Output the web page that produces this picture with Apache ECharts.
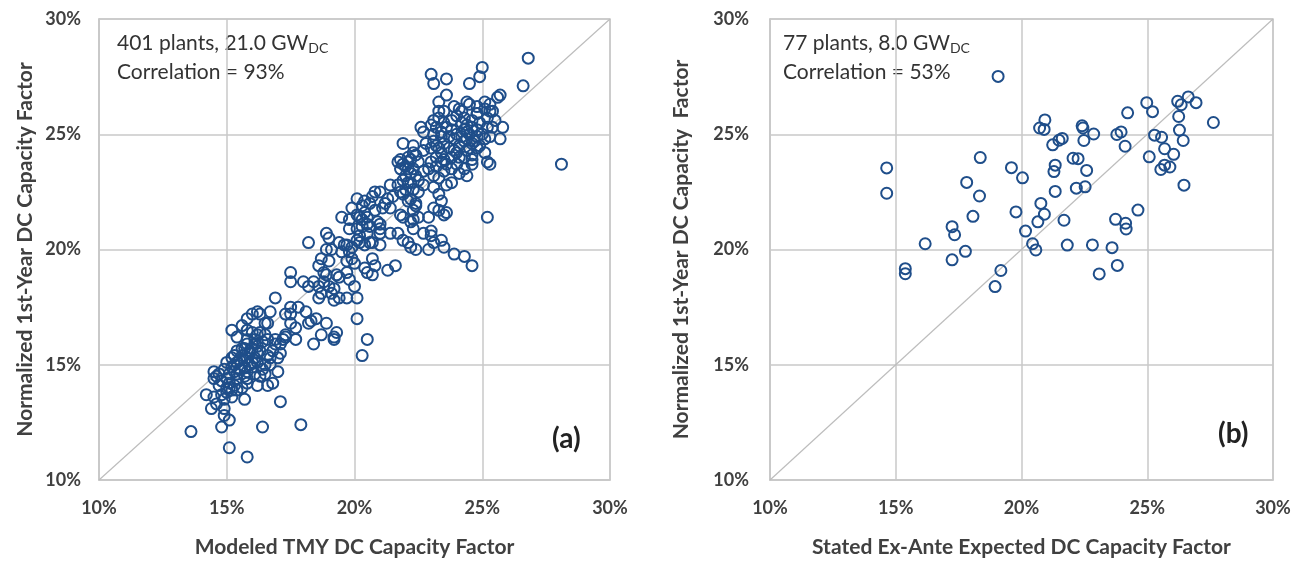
<!DOCTYPE html>
<html>
<head>
<meta charset="utf-8">
<title>Capacity factor scatter</title>
<script src="https://cdn.jsdelivr.net/npm/echarts@6/dist/echarts.min.js"></script>
<style>
  html, body { margin: 0; padding: 0; background: #fff; }
  #chart { width: 1301px; height: 563px; }
</style>
</head>
<body>
<div id="chart"></div>
<script>
// axis ticks (percent)
var tickValues = [10, 15, 20, 25, 30];

// panel (a): modeled TMY CF vs normalized 1st-year CF, [x, y] in %
var modeledPoints = [
  // top
  [26.8,28.3],[25.0,27.9],[24.9,27.5],[23.0,27.6],[23.1,27.2],[23.6,27.4],[26.6,27.1],[24.5,27.2],
  [23.6,26.7],[23.3,26.4],[25.7,26.7],[25.6,26.6],[24.4,26.4],[24.5,26.3],[24.8,26.2],[25.1,26.1],
  [25.4,26.0],[23.9,26.2],[24.1,26.1],[25.1,26.4],[25.3,26.3],[23.3,26.0],
  // 25-26
  [22.6,25.3],[22.7,25.1],[23.0,25.4],[23.1,25.6],[23.3,25.7],[23.5,25.5],[23.6,25.3],[23.8,25.6],
  [24.0,25.8],[24.2,25.5],[24.3,25.7],[24.4,25.4],[24.6,25.6],[24.8,25.9],[24.9,25.5],[25.2,25.7],
  [25.3,26.0],[25.4,25.3],[25.8,25.3],[25.2,25.3],[24.8,25.2],[24.4,25.1],[24.0,25.0],[23.4,25.1],[23.1,25.0],
  // 24-25
  [21.9,24.6],[22.3,24.5],[22.4,24.1],[22.7,24.3],[22.8,24.6],[23.1,24.7],[23.2,24.5],[23.4,24.2],
  [23.5,24.6],[23.7,24.4],[23.9,24.8],[24.0,24.2],[24.1,24.5],[24.3,24.7],[24.4,24.3],[24.6,24.6],
  [24.8,24.9],[24.9,24.5],[25.1,24.8],[25.3,24.9],[25.7,24.8],[25.1,24.2],[25.2,23.8],[25.3,23.7],
  [24.6,24.1],[23.8,24.0],
  // 23-24
  [21.7,23.8],[21.8,23.5],[21.9,23.7],[22.1,23.5],[22.2,23.9],[22.3,23.5],[22.5,23.8],[22.7,23.4],
  [22.9,23.5],[23.1,23.2],[23.2,23.6],[23.4,23.8],[23.5,23.4],[23.8,23.5],[24.0,23.7],[24.1,23.3],
  [24.3,23.5],[24.4,23.2],[24.6,23.7],[23.3,23.1],
  // 22-23
  [21.4,22.8],[21.7,22.8],[21.8,22.5],[21.9,22.4],[22.1,22.9],[22.3,22.6],[22.5,22.5],[22.7,22.8],
  [23.1,22.7],[23.3,22.4],[23.8,22.9],[23.6,22.8],[23.4,22.1],[22.1,22.1],[21.5,22.3],
  // 21-22
  [21.3,22.2],[21.4,21.8],[21.8,21.5],[21.9,21.4],[22.2,21.2],[22.3,21.3],[22.5,21.4],[22.9,21.4],
  [23.1,21.8],[23.3,21.7],[23.5,21.5],[23.6,21.6],[25.2,21.4],[22.4,21.9],[22.3,21.7],
  // 20-21
  [21.4,20.7],[21.7,20.7],[21.9,20.4],[22.1,20.3],[22.2,20.1],[22.4,20.0],[22.9,20.0],[23.0,20.8],
  [23.0,20.6],[23.1,20.3],[23.4,20.4],[23.5,20.1],[23.9,19.8],[24.3,19.7],[24.6,19.3],[22.3,20.9],
  [22.7,20.7],[20.5,20.7],[20.7,20.3],[21.0,20.7],[21.0,20.2],
  // upper core
  [22.0,23.6],[22.1,23.8],[22.2,23.3],[22.0,23.2],[21.9,23.0],[22.2,22.9],[22.4,23.2],[22.1,24.0],
  [22.3,24.2],[21.8,23.9],[22.5,23.0],[22.0,22.6],[22.2,22.2],[22.4,22.0],[24.3,25.2],[24.5,25.0],
  [24.4,24.8],[24.6,25.3],[24.2,24.9],[24.7,24.7],[24.5,24.4],[24.8,24.4],[24.3,24.0],[24.6,23.9],
  [23.4,24.9],[23.3,24.4],[23.2,24.0],[23.5,23.9],[23.0,24.4],[23.7,24.9],[23.8,25.2],[23.6,23.7],
  [23.9,24.3],[24.1,24.0],[23.2,25.3],[23.5,26.0],[24.2,26.0],[24.8,25.9],[25.0,25.0],[25.5,25.6],
  [23.0,23.8],[28.1,23.7],
  // middle
  [19.8,21.3],[20.1,21.5],[20.2,21.4],[20.4,21.6],[20.5,21.4],[20.8,21.7],[20.9,21.2],[21.0,21.1],
  [19.8,20.9],[20.1,20.9],[20.3,21.0],[20.5,21.1],[20.8,22.5],[21.0,22.5],[20.6,22.0],[20.3,21.9],
  [19.9,21.8],[20.1,22.2],[20.4,22.1],[19.7,20.2],[19.9,20.1],[20.1,20.4],[20.2,20.3],[20.4,20.2],
  [20.6,20.3],[19.4,20.3],[18.2,20.3],[18.9,20.7],[19.0,20.5],[18.9,20.0],[19.1,20.0],[18.7,19.6],
  [18.6,19.3],[18.8,19.0],[18.8,18.6],[19.0,18.4],[19.1,18.1],[19.2,18.3],[19.4,18.8],[19.7,19.0],
  [19.7,19.5],[19.9,19.6],[20.0,19.4],[20.4,19.2],[20.5,19.0],[20.7,18.9],[20.8,19.3],[20.7,19.6],
  [21.3,19.1],[21.6,19.3],[19.8,18.7],[20.0,18.4],[20.1,17.9],[19.7,17.9],[19.4,17.9],[19.2,17.8],
  [18.6,18.4],[18.7,18.1],[18.4,18.6],[18.2,18.4],[18.0,18.6],[17.5,19.0],[17.5,18.6],[16.9,17.9],
  [17.8,17.5],[18.1,17.3],[18.2,16.8],[18.3,16.9],[18.5,17.0],[18.7,16.3],[18.9,16.8],[18.4,15.9],
  [17.7,16.1],[17.7,16.6],[17.3,17.2],[17.5,16.8],[17.3,16.2],[19.2,16.2],[19.3,16.4],[20.1,17.0],
  [20.3,15.4],[20.5,16.1],[19.2,16.1],
  [19.5,19.9],[19.6,20.2],[19.8,19.9],[20.2,20.6],[20.3,21.3],[20.6,21.0],[21.1,21.8],[21.2,22.0],
  [19.5,21.4],[19.3,18.9],[18.9,18.9],[18.6,17.9],[19.0,19.5],[20.7,22.3],[21.0,20.9],
  // lower
  [16.2,17.3],[16.3,17.2],[15.8,17.0],[16.7,17.3],[16.6,16.8],[15.8,16.5],[16.2,16.3],[16.5,16.8],
  [15.2,16.5],[15.4,16.2],[15.8,16.1],[16.1,15.9],[16.4,16.0],[16.6,16.1],[16.9,16.1],[17.1,15.9],
  [16.8,15.6],[17.1,15.5],[17.0,15.3],[16.6,15.4],[16.2,15.5],[15.9,15.6],[15.7,15.7],[15.3,15.4],
  [15.2,15.3],[15.0,15.1],[15.4,15.1],[15.7,15.2],[15.8,15.3],[16.0,15.1],[16.2,15.1],[16.5,15.0],
  [16.7,15.0],[14.5,14.7],[14.7,14.6],[14.9,14.8],[15.1,14.6],[15.3,14.7],[15.4,14.4],[15.7,14.5],
  [15.8,14.7],[16.1,14.6],[16.3,14.5],[16.5,14.6],[17.0,14.7],[14.5,14.4],[14.8,14.3],[15.1,14.2],
  [15.3,14.1],[15.8,14.2],[16.2,14.1],[16.6,14.1],[16.8,14.2],[15.0,13.8],[15.4,13.9],[14.8,13.7],
  [15.2,13.6],[15.7,13.5],[14.2,13.7],[14.5,13.6],[14.4,13.1],[14.6,13.3],[14.9,13.1],[14.9,12.8],
  [15.1,12.6],[13.6,12.1],[14.8,12.3],[15.1,11.4],[15.8,11.0],[16.4,12.3],[17.9,12.4],[17.1,13.4],
  [17.3,16.3],[17.2,16.1],[17.5,17.2],[17.5,17.5],
  // lower core
  [15.3,15.0],[15.5,15.2],[15.6,15.4],[15.5,14.8],[15.7,14.9],[15.9,15.0],[15.4,14.6],[15.2,14.9],
  [15.0,14.4],[15.9,15.5],[16.0,15.7],[16.1,15.3],[16.3,15.6],[16.0,14.9],[15.6,15.7],[15.4,15.6],
  [15.8,15.9],[16.1,16.1],[16.3,16.4],[16.5,16.3],[16.2,15.8],[15.1,14.0],[15.0,14.0],[14.7,14.1],
  [14.6,14.5],[15.8,14.4],[16.4,14.8],[16.7,15.3],[16.9,15.9],[15.2,13.9],[15.6,14.0],[14.9,13.5],
  [16.0,16.4],[15.6,16.7],[16.0,17.2]
];

// panel (b): stated ex-ante CF vs normalized 1st-year CF, [x, y] in %
var statedPoints = [
  [19.07,27.51],[14.64,23.54],[14.64,22.44],[15.38,19.17],[15.38,18.95],[16.17,20.25],[17.24,20.99],
  [17.34,20.64],[17.24,19.55],[17.77,19.92],[17.82,22.91],[18.07,21.44],[18.33,22.32],[18.36,23.99],
  [18.95,18.39],[19.18,19.09],[19.60,23.55],[19.78,21.63],[20.04,23.11],[20.16,20.80],[20.44,20.25],
  [20.57,19.98],[20.65,21.20],[20.77,22.00],[20.91,21.53],[20.72,25.27],[20.90,25.21],[20.93,25.62],
  [21.24,24.54],[21.29,23.38],[21.34,23.66],[21.34,22.52],[21.49,24.74],[21.62,24.82],[21.69,21.27],
  [21.82,20.19],[22.05,23.96],[22.25,23.94],[22.18,22.66],[22.41,25.37],[22.44,25.27],[22.48,24.73],
  [22.53,22.72],[22.59,23.43],[22.87,25.01],[22.82,20.20],[23.09,18.94],[23.60,20.08],[23.74,21.31],
  [23.81,19.31],[23.79,24.99],[23.96,25.10],[24.12,24.48],[24.14,21.14],[24.16,20.89],[24.22,25.93],
  [24.63,21.71],[24.98,26.37],[25.21,25.98],[25.08,24.02],[25.29,24.96],[25.57,24.87],[25.69,24.37],
  [25.54,23.47],[25.69,23.66],[25.90,23.58],[26.05,24.13],[26.25,25.77],[26.21,26.43],[26.35,26.28],
  [26.28,25.18],[26.43,24.73],[26.46,22.79],[26.63,26.62],[26.94,26.37],[27.63,25.51]
];

// 1:1 reference line
var diagonal = [[10, 10], [30, 30]];

var markerColor = '#1f4e8a';
var font = 'Lato, "Open Sans", sans-serif';

function makeAxis(gridIndex, name, isY) {
  var gap = isY ? (gridIndex === 0 ? 63 : 78) : 57;
  return {
    type: 'value',
    gridIndex: gridIndex,
    min: tickValues[0],
    max: tickValues[tickValues.length - 1],
    interval: 5,
    name: name,
    nameLocation: 'middle',
    nameGap: gap,
    nameTextStyle: { fontFamily: font, fontWeight: 'bold', fontSize: 21, color: '#404040' },
    axisLine: { show: true, lineStyle: { color: '#c8c8c8', width: 1.5 } },
    axisTick: { show: false },
    axisLabel: {
      formatter: '{value}%',
      fontFamily: font, fontWeight: 'bold', fontSize: 18, color: '#404040',
      margin: isY ? (gridIndex === 0 ? 18 : 21) : 19
    },
    splitLine: { show: true, lineStyle: { color: '#c8c8c8', width: 1.5 } }
  };
}

var chart = echarts.init(document.getElementById('chart'));

var richNote = {
  t: { fontFamily: font, fontSize: 21, fill: '#333', lineHeight: 29 },
  s: { fontFamily: font, fontSize: 14, fill: '#333', padding: [10, 0, 0, 0] }
};

var option = {
  animation: false,
  backgroundColor: '#fff',
  grid: [
    { left: 99, right: 691, top: 19, bottom: 83, show: true, borderColor: '#c8c8c8', borderWidth: 1.5 },
    { left: 770, right: 28, top: 19, bottom: 83, show: true, borderColor: '#c8c8c8', borderWidth: 1.5 }
  ],
  xAxis: [
    makeAxis(0, 'Modeled TMY DC Capacity Factor', false),
    makeAxis(1, 'Stated Ex-Ante Expected DC Capacity Factor', false)
  ],
  yAxis: [
    makeAxis(0, 'Normalized 1st-Year DC Capacity Factor', true),
    makeAxis(1, 'Normalized 1st-Year DC Capacity  Factor', true)
  ],
  graphic: [
    {
      type: 'text', left: 117, top: 33,
      style: { text: '{t|401 plants, 21.0 GW}{s|DC}\n{t|Correlation = 93%}', rich: richNote }
    },
    {
      type: 'text', left: 783, top: 33,
      style: { text: '{t|77 plants, 8.0 GW}{s|DC}\n{t|Correlation = 53%}', rich: richNote }
    },
    { type: 'text', left: 552, top: 425, style: { text: '(a)', fontFamily: font, fontSize: 28, fontWeight: 'bold', fill: '#222' } },
    { type: 'text', left: 1218, top: 420, style: { text: '(b)', fontFamily: font, fontSize: 28, fontWeight: 'bold', fill: '#222' } }
  ],
  series: [
    {
      type: 'line', xAxisIndex: 0, yAxisIndex: 0, data: diagonal, symbol: 'none', silent: true,
      lineStyle: { color: '#bdbdbd', width: 1.2 }, z: 1
    },
    {
      type: 'line', xAxisIndex: 1, yAxisIndex: 1, data: diagonal, symbol: 'none', silent: true,
      lineStyle: { color: '#bdbdbd', width: 1.2 }, z: 1
    },
    {
      type: 'scatter', xAxisIndex: 0, yAxisIndex: 0, data: modeledPoints,
      symbol: 'circle', symbolSize: 11,
      itemStyle: { color: 'rgba(0,0,0,0)', borderColor: markerColor, borderWidth: 2, opacity: 1 }
    },
    {
      type: 'scatter', xAxisIndex: 1, yAxisIndex: 1, data: statedPoints,
      symbol: 'circle', symbolSize: 11,
      itemStyle: { color: 'rgba(0,0,0,0)', borderColor: markerColor, borderWidth: 2, opacity: 1 }
    }
  ]
};

chart.setOption(option);
</script>
</body>
</html>
